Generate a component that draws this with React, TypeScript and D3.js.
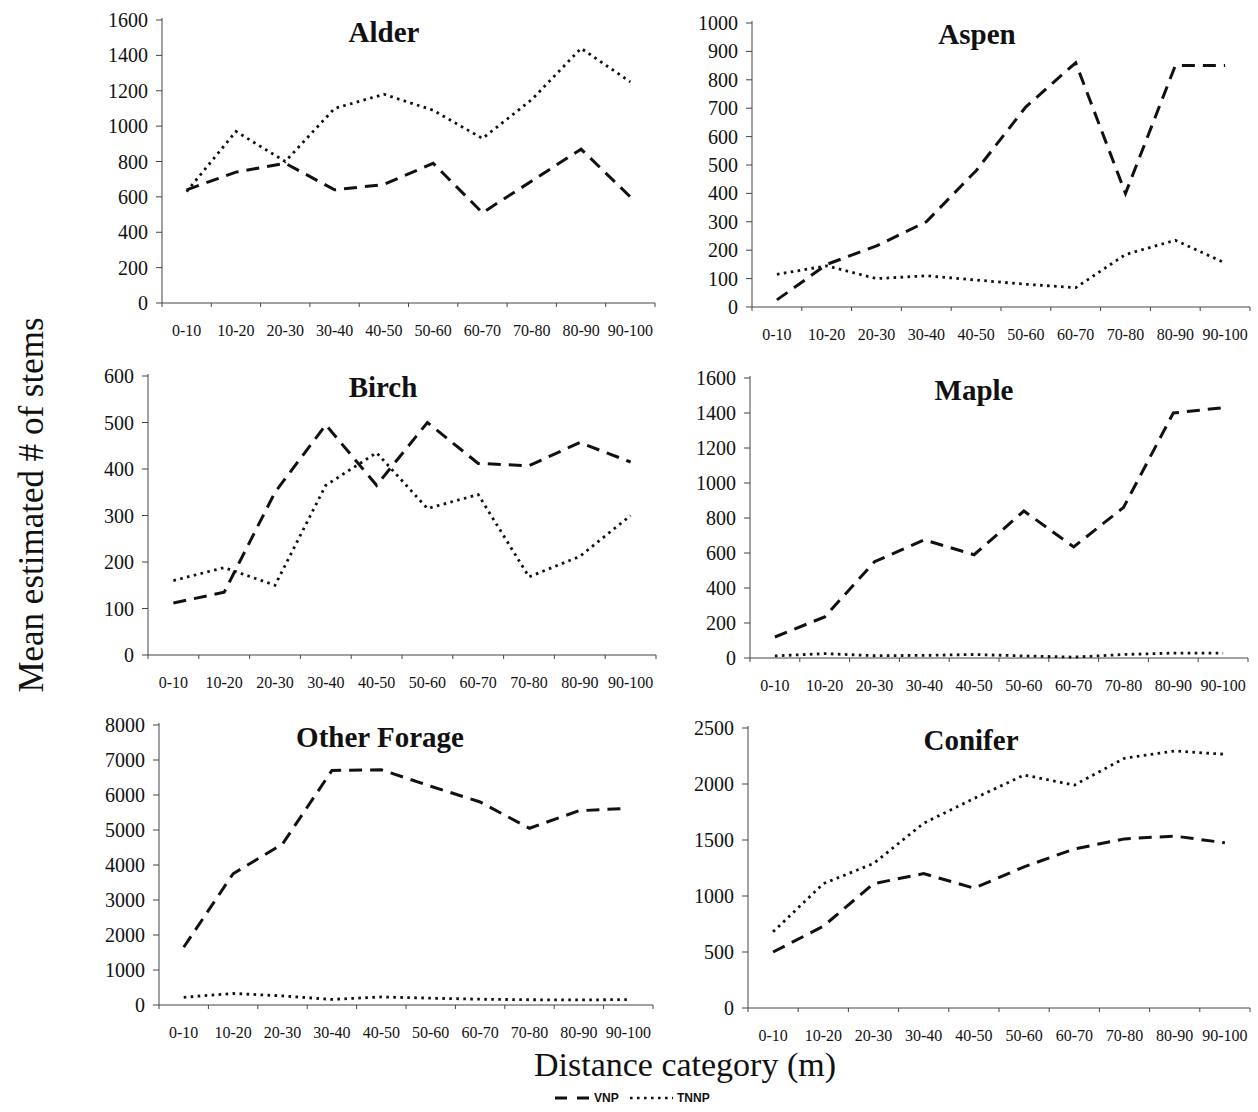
import React from "react";
import * as d3 from "d3";

const categories = ["0-10", "10-20", "20-30", "30-40", "40-50", "50-60", "60-70", "70-80", "80-90", "90-100"];
const panelTitles = ["Alder", "Aspen", "Birch", "Maple", "Other Forage", "Conifer"];
const seriesNames = ["VNP", "TNNP"];

const alderVNP = [640, 740, 790, 640, 670, 790, 510, 690, 870, 600];
const alderTNNP = [630, 970, 800, 1100, 1180, 1090, 930, 1150, 1440, 1250];
const aspenVNP = [25, 150, 215, 300, 480, 705, 860, 400, 850, 850];
const aspenTNNP = [115, 145, 100, 110, 95, 80, 68, 185, 235, 155];
const birchVNP = [112, 135, 350, 495, 365, 500, 412, 407, 457, 415];
const birchTNNP = [160, 188, 150, 365, 435, 315, 345, 168, 212, 300];
const mapleVNP = [120, 235, 550, 675, 590, 840, 635, 860, 1400, 1430];
const mapleTNNP = [12, 25, 13, 15, 20, 12, 5, 20, 28, 28];
const forageVNP = [1650, 3750, 4600, 6700, 6720, 6250, 5800, 5050, 5550, 5620];
const forageTNNP = [220, 330, 260, 160, 230, 195, 165, 150, 145, 155];
const coniferVNP = [500, 730, 1110, 1200, 1070, 1260, 1420, 1510, 1535, 1475];
const coniferTNNP = [680, 1110, 1290, 1650, 1870, 2080, 1990, 2230, 2295, 2265];

const alderTicks = [0, 200, 400, 600, 800, 1000, 1200, 1400, 1600];
const aspenTicks = [0, 100, 200, 300, 400, 500, 600, 700, 800, 900, 1000];
const birchTicks = [0, 100, 200, 300, 400, 500, 600];
const mapleTicks = [0, 200, 400, 600, 800, 1000, 1200, 1400, 1600];
const forageTicks = [0, 1000, 2000, 3000, 4000, 5000, 6000, 7000, 8000];
const coniferTicks = [0, 500, 1000, 1500, 2000, 2500];

const panels = [
  { title: panelTitles[0], vnp: alderVNP, tnnp: alderTNNP, ticks: alderTicks },
  { title: panelTitles[1], vnp: aspenVNP, tnnp: aspenTNNP, ticks: aspenTicks },
  { title: panelTitles[2], vnp: birchVNP, tnnp: birchTNNP, ticks: birchTicks },
  { title: panelTitles[3], vnp: mapleVNP, tnnp: mapleTNNP, ticks: mapleTicks },
  { title: panelTitles[4], vnp: forageVNP, tnnp: forageTNNP, ticks: forageTicks },
  { title: panelTitles[5], vnp: coniferVNP, tnnp: coniferTNNP, ticks: coniferTicks },
];

// layout (pixel positions) for each panel
const layout = [
  { x0: 162, x1: 655, yTop: 20, yBot: 303, tx: 384, ty: 42 },
  { x0: 752, x1: 1250, yTop: 23, yBot: 307, tx: 977, ty: 44 },
  { x0: 148, x1: 656, yTop: 376, yBot: 655, tx: 383, ty: 397 },
  { x0: 750, x1: 1248, yTop: 378, yBot: 658, tx: 974, ty: 400 },
  { x0: 159, x1: 653, yTop: 725, yBot: 1005, tx: 380, ty: 747 },
  { x0: 748, x1: 1250, yTop: 728, yBot: 1008, tx: 971, ty: 750 },
];

const SERIF = "'Liberation Serif', 'DejaVu Serif', serif";
const SANS = "'Liberation Sans', Arial, sans-serif";
const INK = "#111";
const AXIS = "#444";
const DASH = "13 8";
const DOT = "2.6 4.4";

function Panel({ p, l }: { p: any; l: any }) {
  const x = d3.scaleBand<string>().domain(categories).range([l.x0, l.x1]);
  const yMax = p.ticks[p.ticks.length - 1];
  const y = d3.scaleLinear().domain([0, yMax]).range([l.yBot, l.yTop]);
  const line = d3
    .line<number>()
    .x((_, i) => (x(categories[i]) as number) + x.bandwidth() / 2)
    .y((d) => y(d));
  const bounds = categories.map((c) => x(c) as number).concat([l.x1]);
  return (
    <g>
      <line x1={l.x0} x2={l.x0} y1={l.yTop - 2} y2={l.yBot} stroke={AXIS} strokeWidth={1} />
      <line x1={l.x0} x2={l.x1} y1={l.yBot} y2={l.yBot} stroke={AXIS} strokeWidth={1} />
      {p.ticks.map((t: number) => (
        <g key={t}>
          <line x1={l.x0 - 6} x2={l.x0} y1={y(t)} y2={y(t)} stroke={AXIS} strokeWidth={1} />
          <text
            x={l.x0 - 14}
            y={y(t)}
            dy="0.35em"
            textAnchor="end"
            fontFamily={SERIF}
            fontSize={20}
            fill={INK}
          >
            {t}
          </text>
        </g>
      ))}
      {bounds.map((bx, i) => (
        <line key={i} x1={bx} x2={bx} y1={l.yBot} y2={l.yBot + 4} stroke={AXIS} strokeWidth={1} />
      ))}
      {categories.map((c) => (
        <text
          key={c}
          x={(x(c) as number) + x.bandwidth() / 2}
          y={l.yBot + 33}
          textAnchor="middle"
          fontFamily={SERIF}
          fontSize={16}
          fill={INK}
        >
          {c}
        </text>
      ))}
      <path d={line(p.tnnp) || ""} fill="none" stroke={INK} strokeWidth={2.8} strokeDasharray={DOT} />
      <path d={line(p.vnp) || ""} fill="none" stroke={INK} strokeWidth={3} strokeDasharray={DASH} />
      <text x={l.tx} y={l.ty} textAnchor="middle" fontFamily={SERIF} fontWeight="bold" fontSize={29} fill={INK}>
        {p.title}
      </text>
    </g>
  );
}

export default function App() {
  return (
    <svg
      width={1258}
      height={1112}
      style={{ position: "absolute", left: 0, top: 0, background: "#fff" }}
    >
      <rect x={0} y={0} width={1258} height={1112} fill="#fff" />
      {panels.map((p, i) => (
        <Panel key={p.title} p={p} l={layout[i]} />
      ))}
      <text
        transform="translate(43,505) rotate(-90)"
        textAnchor="middle"
        fontFamily={SERIF}
        fontSize={35}
        fill={INK}
      >
        Mean estimated # of stems
      </text>
      <text x={685} y={1076} textAnchor="middle" fontFamily={SERIF} fontSize={34} fill={INK}>
        Distance category (m)
      </text>
      <g>
        <line x1={555} x2={590} y1={1098} y2={1098} stroke={INK} strokeWidth={3} strokeDasharray="12 10" />
        <text x={594} y={1102} fontFamily={SANS} fontWeight="bold" fontSize={12} fill={INK}>
          {seriesNames[0]}
        </text>
        <line x1={630} x2={673} y1={1098} y2={1098} stroke={INK} strokeWidth={2.6} strokeDasharray={DOT} />
        <text x={677} y={1102} fontFamily={SANS} fontWeight="bold" fontSize={12} fill={INK}>
          {seriesNames[1]}
        </text>
      </g>
    </svg>
  );
}
